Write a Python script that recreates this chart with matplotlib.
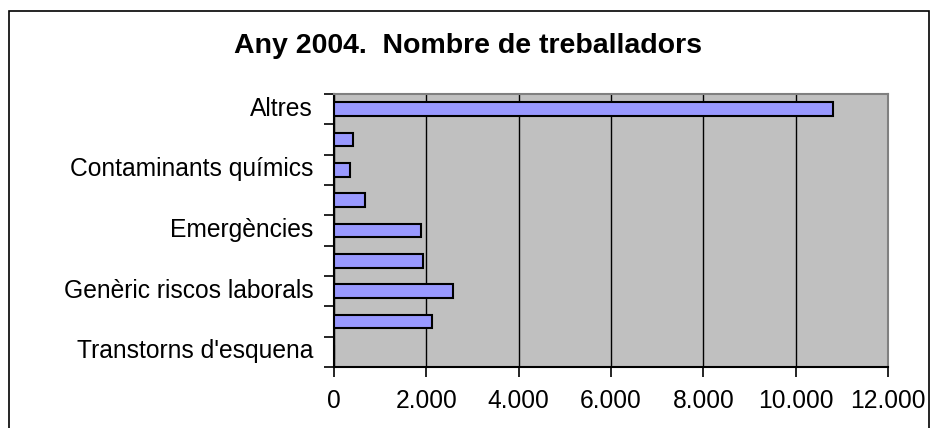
import numpy as np
import matplotlib.pyplot as plt
import matplotlib.transforms as mtransforms
from matplotlib.ticker import FuncFormatter, FixedLocator
from matplotlib.patches import Rectangle

# categories from bottom to top (Excel draws the first category at the bottom)
categories = ["Transtorns d'esquena", "", "Genèric riscos laborals", "",
              "Emergències", "", "Contaminants químics", "", "Altres"]
workers = [0, 2120, 2580, 1920, 1880, 680, 340, 420, 10800]
x_ticks = [0, 2000, 4000, 6000, 8000, 10000, 12000]

plt.rcParams['font.family'] = ['Liberation Sans', 'DejaVu Sans']

fig = plt.figure(figsize=(9.36, 4.28), dpi=100)
ax = fig.add_axes([334 / 936, 1 - 367 / 428, (888 - 334) / 936, (367 - 94) / 428])

y = np.arange(len(categories))
ax.barh(y, workers, height=0.45, color='#9999FF', edgecolor='black', linewidth=1.5, zorder=3)

ax.set_facecolor('#C0C0C0')
ax.set_xlim(0, 12000)
ax.set_ylim(-0.5, len(categories) - 0.5)

ax.xaxis.set_major_locator(FixedLocator(x_ticks))
ax.xaxis.set_major_formatter(FuncFormatter(lambda v, p: f"{int(v):,}".replace(",", ".")))
ax.grid(axis='x', color='black', linewidth=1, zorder=1)
ax.set_axisbelow(True)

# category labels between boundary ticks
ax.set_yticks(y)
ax.set_yticklabels(categories, fontsize=17.7)
ax.tick_params(axis='y', which='major', length=0, pad=15)
ax.set_yticks(np.arange(-0.5, len(categories)), minor=True)
ax.tick_params(axis='y', which='minor', length=7, width=1.2, direction='out')
ax.tick_params(axis='x', length=7, width=1.2, direction='out', labelsize=17.7, pad=9)

# Excel puts category labels a little above the band centre
shift = mtransforms.ScaledTranslation(0, 3 / 100, fig.dpi_scale_trans)
for lbl in ax.get_yticklabels():
    lbl.set_transform(lbl.get_transform() + shift)

for side in ['top', 'right']:
    ax.spines[side].set_color('#808080')
    ax.spines[side].set_linewidth(1.5)
for side in ['left', 'bottom']:
    ax.spines[side].set_color('black')
    ax.spines[side].set_linewidth(1.5)

fig.text(468 / 936, 1 - 46 / 428, "Any 2004.  Nombre de treballadors",
         ha='center', va='center', fontsize=20.5, fontweight='bold')

# outer chart frame
fig.patches.append(Rectangle((9 / 936, -0.05), (929 - 9) / 936, 1 - 11 / 428 + 0.05,
                             transform=fig.transFigure, fill=False,
                             edgecolor='black', linewidth=1.2))

fig.savefig('out.png', dpi=100)
